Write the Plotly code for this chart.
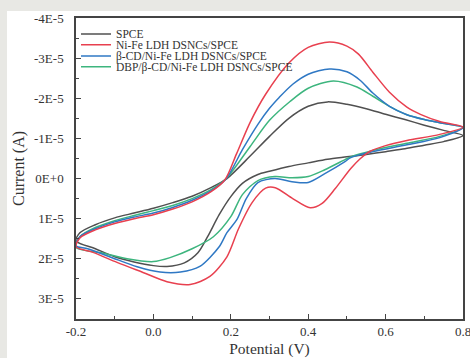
import numpy as np
import plotly.graph_objects as go

# ---- data (current in units of 1E-5 A) ----
spce_E = [-0.2, -0.19, -0.15, -0.1, -0.05, 0.0, 0.05, 0.1, 0.15, 0.19, 0.25, 0.3, 0.35, 0.4, 0.45, 0.5, 0.55, 0.6, 0.65, 0.7, 0.75, 0.8,
          0.75, 0.7, 0.65, 0.6, 0.55, 0.5, 0.45, 0.4, 0.35, 0.3, 0.27, 0.23, 0.2, 0.17, 0.14, 0.115, 0.08, 0.035, 0.0, -0.05, -0.1, -0.15, -0.2]
spce_I = [1.55, 1.35, 1.15, 0.98, 0.86, 0.74, 0.6, 0.44, 0.22, 0.0, -0.56, -1.05, -1.5, -1.8, -1.91, -1.85, -1.74, -1.6, -1.47, -1.33, -1.2, -1.07,
          -0.92, -0.83, -0.74, -0.67, -0.6, -0.54, -0.48, -0.39, -0.3, -0.18, -0.1, 0.12, 0.45, 0.9, 1.45, 1.85, 2.1, 2.19, 2.17, 2.08, 1.95, 1.75, 1.55]

nife_E = [-0.2, -0.19, -0.15, -0.1, -0.05, 0.0, 0.05, 0.1, 0.15, 0.185, 0.215, 0.25, 0.29, 0.35, 0.4, 0.455, 0.5, 0.53, 0.567, 0.61, 0.655, 0.69, 0.74, 0.8,
          0.74, 0.655, 0.6, 0.56, 0.535, 0.51, 0.47, 0.436, 0.405, 0.36, 0.315, 0.29, 0.255, 0.22, 0.19, 0.146, 0.095, 0.035, -0.027, -0.094, -0.156, -0.2]
nife_I = [1.7, 1.48, 1.28, 1.12, 1.0, 0.9, 0.76, 0.58, 0.32, 0.03, -0.62, -1.4, -2.1, -2.88, -3.27, -3.4, -3.3, -3.1, -2.65, -2.15, -1.78, -1.6, -1.42, -1.28,
          -1.1, -0.95, -0.82, -0.68, -0.5, -0.25, 0.25, 0.62, 0.73, 0.5, 0.23, 0.24, 0.6, 1.25, 1.95, 2.44, 2.64, 2.57, 2.34, 2.09, 1.84, 1.7]

cd_E = [-0.2, -0.19, -0.15, -0.1, -0.05, 0.0, 0.05, 0.1, 0.15, 0.187, 0.23, 0.27, 0.3, 0.325, 0.36, 0.4, 0.455, 0.5, 0.534, 0.567, 0.61, 0.655, 0.7, 0.74, 0.8,
        0.74, 0.655, 0.567, 0.51, 0.495, 0.443, 0.4, 0.358, 0.314, 0.27, 0.24, 0.216, 0.19, 0.17, 0.12, 0.07, 0.017, -0.042, -0.11, -0.17, -0.2]
cd_I = [1.68, 1.45, 1.25, 1.08, 0.96, 0.86, 0.72, 0.54, 0.3, 0.02, -0.72, -1.35, -1.75, -2.02, -2.35, -2.6, -2.73, -2.66, -2.45, -2.13, -1.8, -1.59, -1.47, -1.39, -1.27,
        -1.02, -0.84, -0.67, -0.52, -0.42, -0.12, 0.1, 0.08, 0.0, 0.1, 0.5, 1.02, 1.35, 1.7, 2.19, 2.33, 2.33, 2.2, 1.96, 1.75, 1.68]

dbp_E = [-0.2, -0.19, -0.15, -0.1, -0.05, 0.0, 0.05, 0.1, 0.15, 0.188, 0.25, 0.3, 0.353, 0.4, 0.465, 0.526, 0.567, 0.61, 0.655, 0.7, 0.74, 0.8,
         0.74, 0.655, 0.567, 0.51, 0.495, 0.443, 0.4, 0.358, 0.314, 0.27, 0.23, 0.2, 0.155, 0.1, 0.043, 0.0, -0.068, -0.13, -0.2]
dbp_I = [1.72, 1.45, 1.22, 1.05, 0.92, 0.8, 0.67, 0.5, 0.27, 0.0, -0.8, -1.45, -1.92, -2.25, -2.43, -2.28, -2.05, -1.8, -1.59, -1.47, -1.39, -1.27,
         -1.05, -0.88, -0.7, -0.54, -0.47, -0.22, -0.05, -0.02, -0.05, 0.05, 0.4, 0.95, 1.45, 1.75, 1.97, 2.07, 2.0, 1.86, 1.72]

names = ["SPCE", "Ni-Fe LDH DSNCs/SPCE", "β-CD/Ni-Fe LDH DSNCs/SPCE", "DBP/β-CD/Ni-Fe LDH DSNCs/SPCE"]
colors = ["#505050", "#e8404f", "#2f78c4", "#3db57e"]

ytick_vals = [-4, -3, -2, -1, 0, 1, 2, 3]
ytick_text = ["-4E-5", "-3E-5", "-2E-5", "-1E-5", "0E+0", "1E-5", "2E-5", "3E-5"]
xtick_vals = [-0.2, 0.0, 0.2, 0.4, 0.6, 0.8]
xtick_text = ["-0.2", "0.0", "0.2", "0.4", "0.6", "0.8"]

SCALE = 1e-5
series = [(spce_E, spce_I), (nife_E, nife_I), (cd_E, cd_I), (dbp_E, dbp_I)]
legend_ids = ["legend", "legend2", "legend3", "legend4"]
legend_y = [0.947, 0.911, 0.874, 0.838]

FONT = "Liberation Serif"
fig = go.Figure()
draw_order = [0, 3, 2, 1]
for i in draw_order:
    E, I = series[i]
    fig.add_trace(go.Scatter(
        x=E, y=np.array(I) * SCALE, mode="lines", name=names[i],
        line=dict(color=colors[i], width=1.5, shape="spline", smoothing=0.8),
        legend=legend_ids[i], showlegend=True,
    ))

axis_common = dict(
    showline=True, linecolor="#444444", linewidth=1.5, mirror=True,
    ticks="inside", ticklen=5, tickwidth=1.2, tickcolor="#444444",
    showgrid=False, zeroline=False, automargin=False, ticklabeloverflow="allow",
    tickfont=dict(family=FONT, size=13, color="#333333"),
)

fig.update_layout(
    width=470, height=358,
    margin=dict(l=76, r=7, t=18, b=39, autoexpand=False),
    paper_bgcolor="white", plot_bgcolor="white",
    font=dict(family=FONT, color="#333333"),
    xaxis=dict(
        range=[-0.2, 0.8], tickmode="array", tickvals=xtick_vals, ticktext=xtick_text,
        minor=dict(tickmode="linear", tick0=-0.1, dtick=0.2, ticks="inside", ticklen=3, tickcolor="#444444"),
        title=dict(text="Potential (V)", font=dict(family=FONT, size=15.5, color="#333333"), standoff=11),
        **axis_common,
    ),
    yaxis=dict(
        range=[3.5e-5, -4e-5], tickmode="array",
        tickvals=[v * SCALE for v in ytick_vals], ticktext=ytick_text,
        minor=dict(tickmode="linear", tick0=-3.5e-5, dtick=1e-5, ticks="inside", ticklen=3, tickcolor="#444444"),
        title=dict(text="Current (A)", font=dict(family=FONT, size=16, color="#333333"), standoff=5),
        ticklabelstandoff=8,
        **axis_common,
    ),
    shapes=[
        dict(type="rect", xref="paper", yref="paper", x0=-76/387, x1=1 + 7/387, y0=1 + 7/301, y1=1 + 18/301,
             fillcolor="#e8e8e4", line=dict(width=0), layer="above"),
        dict(type="rect", xref="paper", yref="paper", x0=-76/387, x1=-69/387, y0=-39/301, y1=1 + 18/301,
             fillcolor="#e8e8e4", line=dict(width=0), layer="above"),
    ],
)

for lid, ly in zip(legend_ids, legend_y):
    fig.update_layout({lid: dict(x=0.0, y=ly, xanchor="left", yanchor="middle",
                                 bgcolor="rgba(0,0,0,0)", borderwidth=0,
                                 font=dict(family=FONT, size=11.5, color="#333333"))})

fig.write_html("out.html", config={"displayModeBar": False},
               post_script="document.body.style.margin='0px';")
